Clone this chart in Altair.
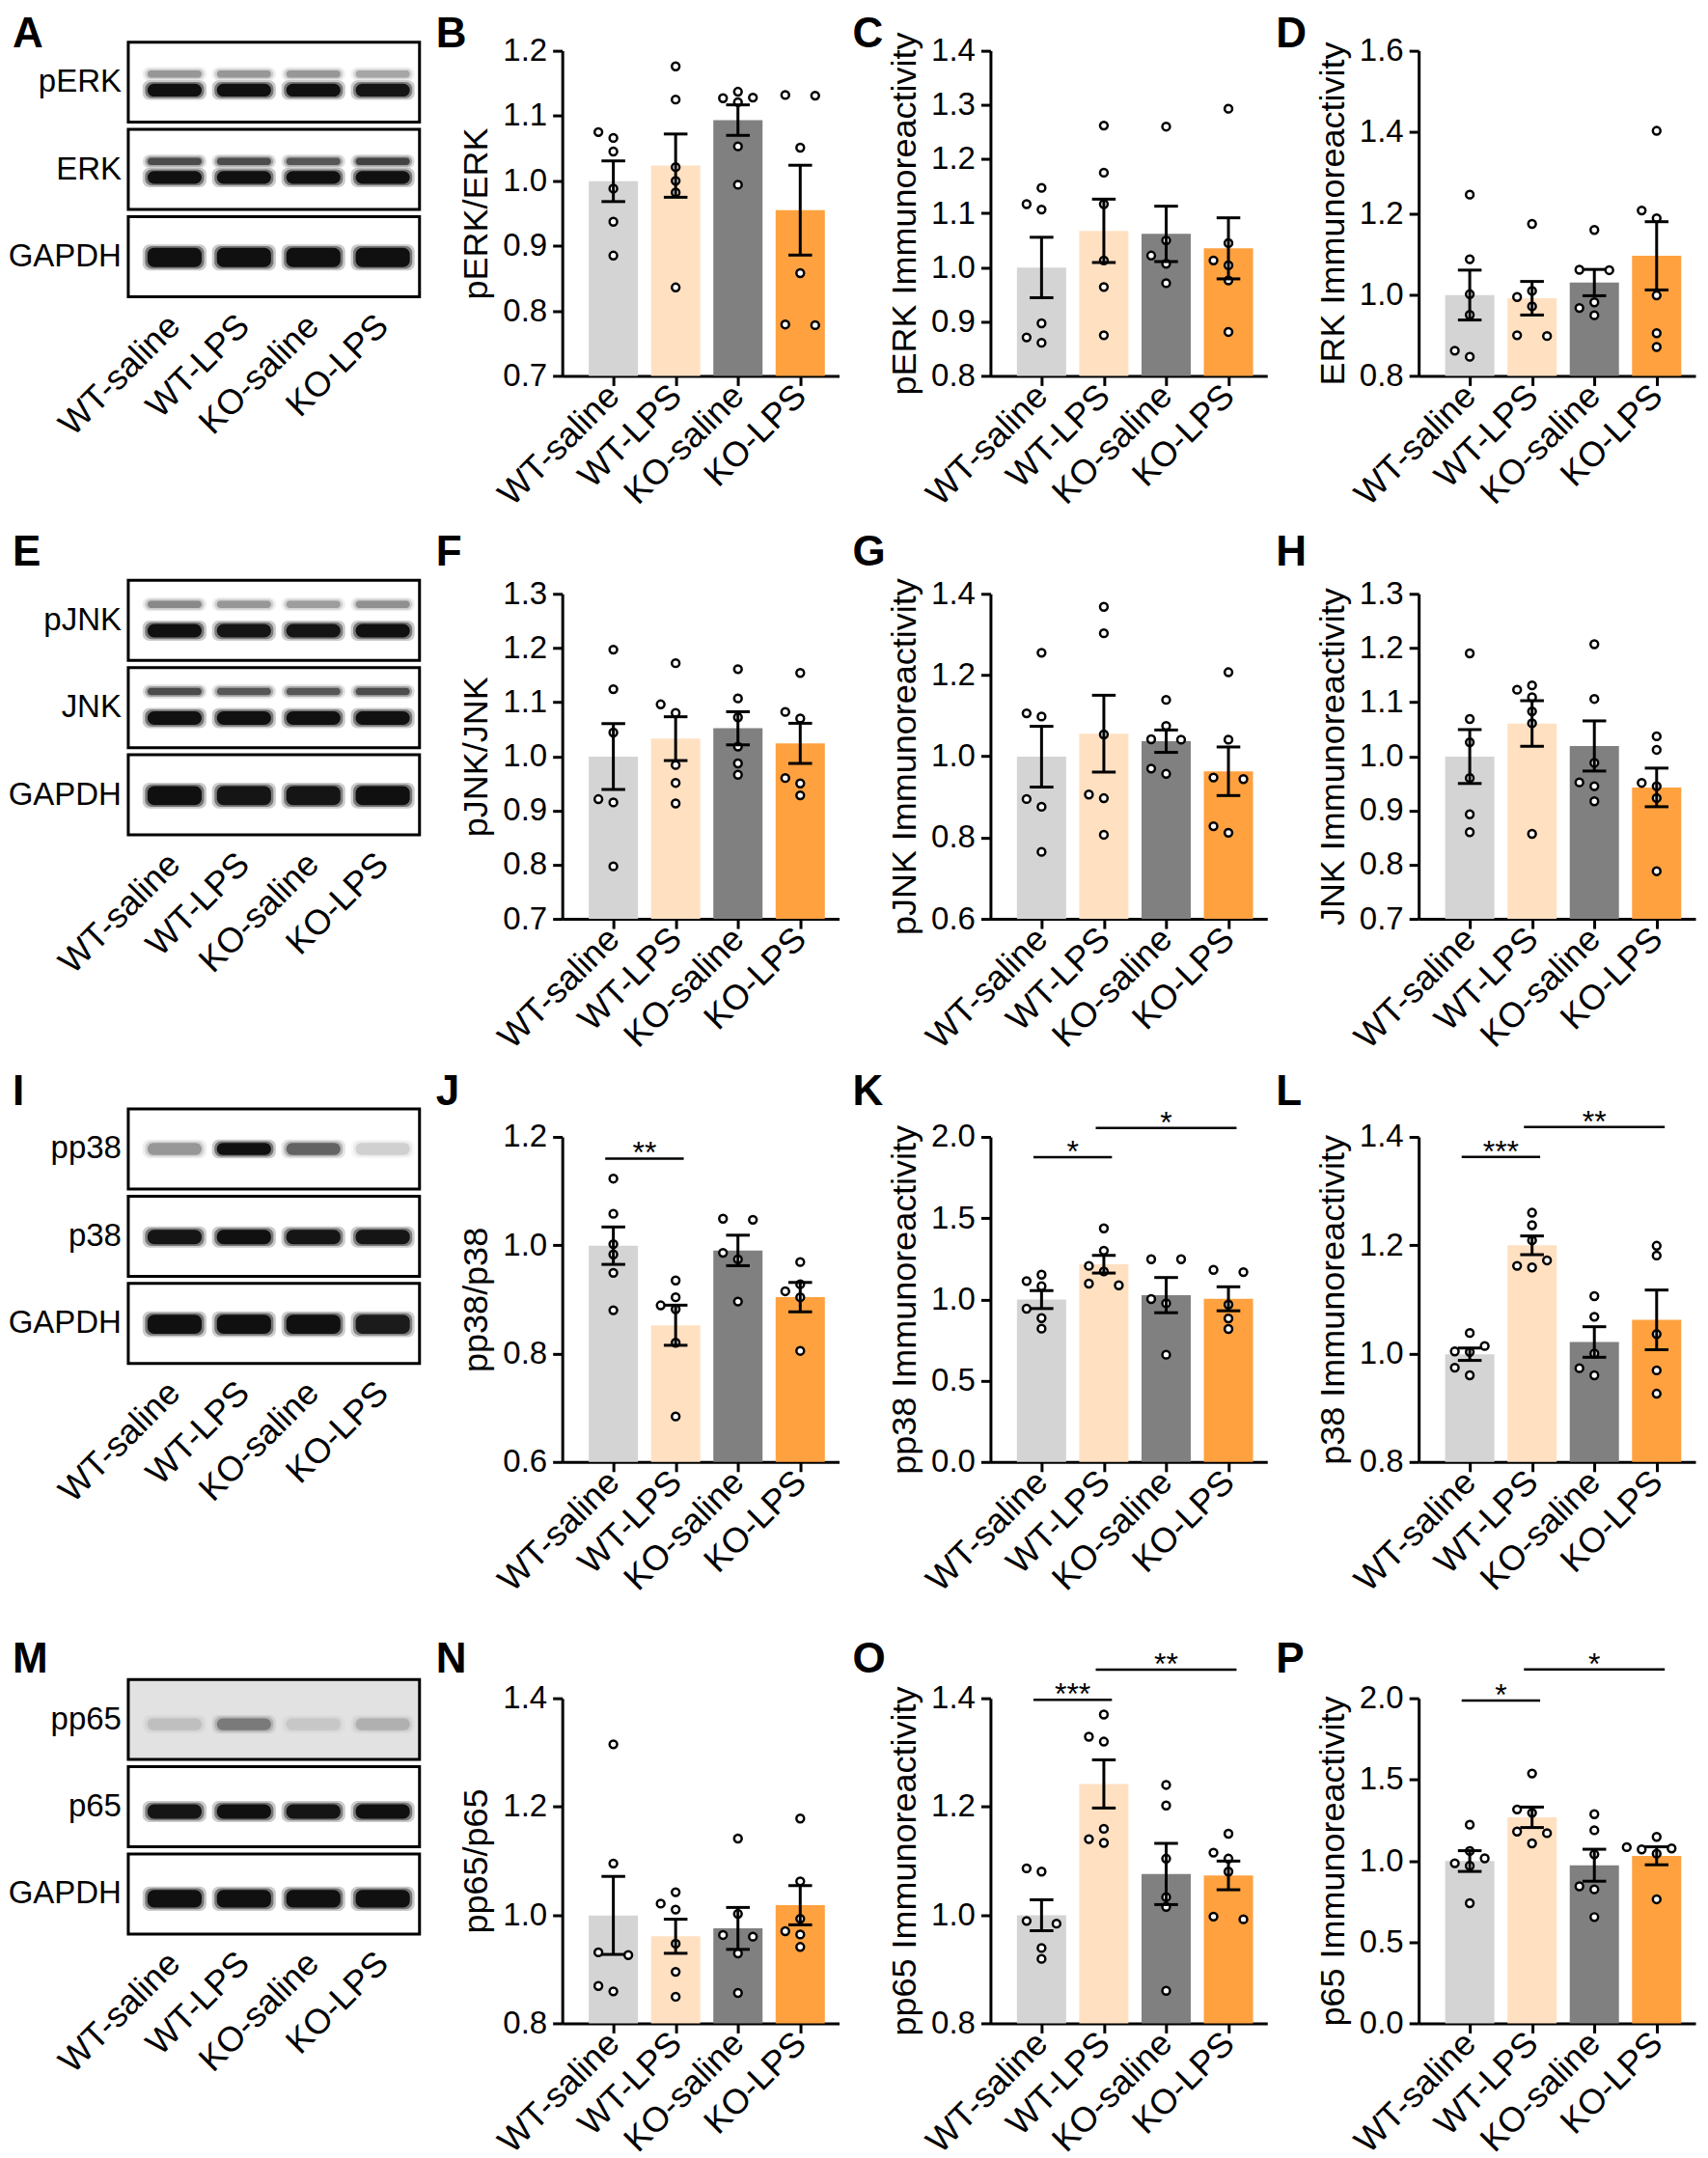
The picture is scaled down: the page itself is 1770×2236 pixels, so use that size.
import altair as alt
import numpy as np
import pandas as pd

FONT = "Liberation Sans"
GROUPS = ["WT-saline", "WT-LPS", "KO-saline", "KO-LPS"]
BAR_COLORS = ["#D4D4D4", "#FFE0C1", "#808080", "#FFA13F"]

# ---------------- individual values ----------------
B_vals = [[1.075, 1.066, 1.045, 0.988, 0.937, 0.885],
          [1.176, 1.125, 1.021, 1.000, 0.982, 0.836],
          [1.137, 1.127, 1.128, 1.121, 1.053, 0.994],
          [1.131, 1.132, 1.051, 0.858, 0.778, 0.779]]
C_vals = [[1.117, 1.147, 1.107, 0.897, 0.861, 0.871],
          [1.262, 1.175, 1.117, 1.013, 0.964, 0.875],
          [1.260, 1.050, 1.022, 1.007, 0.971],
          [1.293, 1.045, 1.013, 1.004, 0.976, 0.881]]
D_vals = [[1.246, 1.087, 1.001, 0.950, 0.847, 0.862],
          [1.174, 1.009, 0.994, 0.971, 0.898, 0.900],
          [1.159, 1.060, 1.061, 0.981, 0.967, 0.949],
          [1.403, 1.207, 1.188, 0.998, 0.905, 0.871]]
F_vals = [[1.197, 1.124, 1.044, 0.921, 0.915, 0.797],
          [1.172, 1.096, 1.080, 0.984, 0.951, 0.913],
          [1.161, 1.107, 1.072, 1.018, 0.987, 0.966],
          [1.154, 1.082, 1.070, 0.950, 0.960, 0.928]]
G_vals = [[1.255, 1.098, 1.106, 0.895, 0.876, 0.765],
          [1.368, 1.303, 1.054, 0.897, 0.906, 0.807],
          [1.139, 1.075, 1.041, 1.042, 0.957, 0.970],
          [1.207, 1.041, 0.944, 0.948, 0.812, 0.828]]
H_vals = [[1.190, 1.069, 1.026, 0.960, 0.893, 0.860],
          [1.131, 1.123, 1.109, 1.083, 1.061, 0.857],
          [1.207, 1.106, 0.988, 0.952, 0.945, 0.917],
          [1.037, 1.012, 0.945, 0.951, 0.923, 0.788]]
J_vals = [[1.123, 1.058, 1.002, 0.983, 0.949, 0.880],
          [0.935, 0.889, 0.904, 0.882, 0.820, 0.684],
          [1.049, 1.047, 0.986, 0.974, 0.896],
          [0.969, 0.915, 0.928, 0.904, 0.805]]
K_vals = [[1.152, 1.113, 1.081, 0.943, 0.885, 0.820],
          [1.437, 1.300, 1.206, 1.172, 1.087, 1.097],
          [1.247, 1.247, 1.002, 0.976, 0.660],
          [1.182, 1.168, 0.968, 0.883, 0.818]]
L_vals = [[1.038, 1.014, 1.004, 1.003, 0.974, 0.960],
          [1.260, 1.237, 1.209, 1.172, 1.159, 1.162],
          [1.106, 1.068, 1.000, 0.960, 0.973],
          [1.199, 1.181, 1.036, 0.969, 0.926]]
N_vals = [[1.315, 1.095, 0.926, 0.931, 0.859, 0.869],
          [1.042, 1.021, 1.010, 0.947, 0.895, 0.849],
          [1.141, 1.002, 0.963, 0.960, 0.929, 0.856],
          [1.178, 1.062, 0.993, 0.964, 0.970, 0.941]]
O_vals = [[1.080, 1.086, 0.984, 0.989, 0.939, 0.919],
          [1.370, 1.320, 1.329, 1.159, 1.133, 1.140],
          [1.240, 1.202, 1.104, 1.033, 1.015, 0.860],
          [1.150, 1.115, 1.104, 1.080, 0.992, 0.997]]
P_vals = [[1.222, 1.060, 1.015, 0.969, 0.985, 0.739],
          [1.537, 1.295, 1.316, 1.180, 1.170, 1.107],
          [1.287, 1.188, 1.040, 0.843, 0.824, 0.654],
          [1.147, 1.044, 1.084, 1.070, 1.076, 0.763]]

# significance brackets: (group i, group j, level, label)
J_sig = [(0, 1, 1.160, "**")]
K_sig = [(0, 1, 1.875, "*"), (1, 3, 2.055, "*")]
L_sig = [(0, 1, 1.363, "***"), (1, 3, 1.418, "**")]
O_sig = [(0, 1, 1.397, "***"), (1, 3, 1.453, "**")]
P_sig = [(0, 1, 1.986, "*"), (1, 3, 2.177, "*")]

# blot band intensities (per lane, 0..1)
A_pERK = [[0.30, 0.30, 0.30, 0.25], [1.0, 1.0, 1.0, 0.95]]
A_ERK = [[0.60, 0.60, 0.55, 0.65], [1.0, 1.0, 1.0, 1.0]]
A_GAPDH = [[1.0, 1.0, 1.0, 1.0]]
E_pJNK = [[0.35, 0.30, 0.28, 0.32], [1.0, 0.95, 0.95, 1.0]]
E_JNK = [[0.60, 0.55, 0.55, 0.60], [1.0, 1.0, 1.0, 1.0]]
E_GAPDH = [[1.0, 0.95, 0.95, 1.0]]
I_pp38 = [[0.30, 1.0, 0.50, 0.12]]
I_p38 = [[0.95, 1.0, 0.95, 0.95]]
I_GAPDH = [[1.0, 1.0, 1.0, 0.9]]
M_pp65 = [[0.10, 0.35, 0.08, 0.15]]
M_p65 = [[0.95, 1.0, 0.95, 1.0]]
M_GAPDH = [[1.0, 1.0, 1.0, 1.0]]

# ---------------- layout / style constants ----------------
PLOT_W, PLOT_H = 287, 337
XMIN, XMAX = -0.82, 3.623
BAR_HALF, CAP_HALF, DOT_STEP = 0.395, 0.19, 0.24
LABEL_EXPR = "['WT-saline','WT-LPS','KO-saline','KO-LPS'][datum.value]"
TICK_FS, XLAB_FS, TITLE_FS = 33, 36, 36

BOX_W_PX = 302
BLOT_W = 293
BX0, BX1 = -0.667, 3.53
BOX_PX = 83.0
PITCH = 1.09
BAND_HALF = 0.39
TWO_A = [(0.40, 0.09), (0.60, 0.16)]
TWO_E = [(0.30, 0.09), (0.63, 0.17)]
ONE_G = [(0.51, 0.24)]
ONE_P = [(0.50, 0.15)]
ONE_P2 = [(0.51, 0.18)]
ONE_M = [(0.56, 0.15)]
ONE_M2 = [(0.56, 0.18)]
ONE_MG = [(0.56, 0.22)]


def swarm(vals, ppu, thresh=10.0):
    order = sorted(range(len(vals)), key=lambda i: vals[i])
    slot = {}
    for i in order:
        for s in [0, -1, 1, -2, 2, -3, 3]:
            if all(not (slot[j] == s and abs(vals[j] - vals[i]) * ppu < thresh) for j in slot):
                slot[i] = s
                break
    for i in list(slot):
        if slot[i] == 0:
            close = [j for j in slot if j != i and slot[j] == -1 and abs(vals[j] - vals[i]) * ppu < 3]
            blocked = any(slot[j] == 1 and abs(vals[j] - vals[i]) * ppu < thresh for j in slot)
            if close and not blocked:
                slot[i] = 1
    return [slot[i] for i in range(len(vals))]


def letter_layer(letter, lx, ly):
    return alt.Chart(pd.DataFrame({"t": [letter]})).mark_text(
        align="left", baseline="top", fontSize=44, font=FONT, fontWeight="bold", color="black"
    ).encode(text="t:N", x=alt.value(lx), y=alt.value(ly))


def bar_panel(letter, ytitle, vals, ymin, ymax, step, sigs, lx, ly):
    ppu = PLOT_H / (ymax - ymin)
    rows = []
    for gi, (g, v) in enumerate(zip(GROUPS, vals)):
        for val, s in zip(v, swarm(v, ppu)):
            rows.append({"group": g, "gi": gi, "value": val, "xd": gi + s * DOT_STEP})
    dots = pd.DataFrame(rows)
    agg = dots.groupby("gi").agg(group=("group", "first"), mean=("value", "mean"),
                                 sd=("value", "std"), n=("value", "count")).reset_index()
    agg["sem"] = agg["sd"] / np.sqrt(agg["n"])
    agg["lo"] = agg["mean"] - agg["sem"]
    agg["hi"] = agg["mean"] + agg["sem"]
    agg["bx1"] = agg["gi"] - BAR_HALF
    agg["bx2"] = agg["gi"] + BAR_HALF
    agg["cx1"] = agg["gi"] - CAP_HALF
    agg["cx2"] = agg["gi"] + CAP_HALF

    xs = alt.Scale(domain=[XMIN, XMAX], nice=False, zero=False)
    ys = alt.Scale(domain=[ymin, ymax], nice=False, zero=False)
    nt = int(round((ymax - ymin) / step))
    ticks = [round(ymin + i * step, 3) for i in range(nt + 1)]
    xaxis = dict(values=[0, 1, 2, 3], labelExpr=LABEL_EXPR, title=None, labelAngle=315,
                 labelAlign="right", labelBaseline="middle", labelOverlap=False, labelPadding=5,
                 tickSize=10, labelBound=False, labelFlush=False, labelFontSize=XLAB_FS,
                 labelLimit=400)
    yaxis = dict(values=ticks, format=".1f", title=ytitle, titleLimit=1000, labelOverlap=False,
                 titlePadding=8, tickSize=10, labelPadding=6, labelFlush=False,
                 labelFontSize=TICK_FS, titleFontSize=TITLE_FS)

    def X(f):
        return alt.X(f, type="quantitative", scale=xs, axis=alt.Axis(**xaxis))

    def Y(f):
        return alt.Y(f, type="quantitative", scale=ys, axis=alt.Axis(**yaxis))

    base = alt.Chart(agg)
    bars = base.mark_rect().encode(
        x=X("bx1"), x2="bx2:Q", y=Y("mean"), y2=alt.datum(ymin),
        color=alt.Color("group:N", scale=alt.Scale(domain=GROUPS, range=BAR_COLORS), legend=None),
    )
    pts = alt.Chart(dots).mark_circle(size=62, fill="white", stroke="black", strokeWidth=2.5,
                                      opacity=1).encode(x=X("xd"), y=Y("value"))
    err = base.mark_rule(color="black", strokeWidth=3).encode(x=X("gi"), y=Y("lo"), y2="hi:Q")
    cap_t = base.mark_rule(color="black", strokeWidth=3).encode(x=X("cx1"), x2="cx2:Q", y=Y("hi"))
    cap_b = base.mark_rule(color="black", strokeWidth=3).encode(x=X("cx1"), x2="cx2:Q", y=Y("lo"))
    layers = [bars, pts, err, cap_t, cap_b]
    if sigs:
        sd = pd.DataFrame([{"x1": i - 0.13, "x2": j + 0.13, "xm": (i + j) / 2, "y": y, "label": lab}
                           for i, j, y, lab in sigs])
        layers.append(alt.Chart(sd).mark_rule(color="black", strokeWidth=2.5).encode(
            x=X("x1"), x2="x2:Q", y=Y("y")))
        layers.append(alt.Chart(sd).mark_text(fontSize=32, font=FONT, baseline="alphabetic", dy=5,
                                              color="black").encode(
            x=X("xm"), y=Y("y"), text="label:N"))
    layers.append(letter_layer(letter, lx, ly))
    return alt.layer(*layers).properties(width=PLOT_W, height=PLOT_H)


def blot_panel(letter, proteins, slot_sets, intensities, fills, d0, lx, ly, height=PLOT_H):
    xs = alt.Scale(domain=[BX0, BX0 + (BX1 - BX0) * BLOT_W / BOX_W_PX], nice=False, zero=False)
    ys = alt.Scale(domain=[d0, d0 + height / BOX_PX], nice=False, zero=False, reverse=True)
    boxes = pd.DataFrame([{"x1": BX0, "x2": BX1, "y1": k * PITCH, "y2": k * PITCH + 1.0,
                           "fill": fills[k], "name": proteins[k], "ym": k * PITCH + 0.5}
                          for k in range(3)])
    brow = []
    for k in range(3):
        for (c, t), ints in zip(slot_sets[k], intensities[k]):
            for lane in range(4):
                op = ints[lane]
                for grow, frac in [(0.07, 0.22), (0.035, 0.45), (0.0, 1.0)]:
                    brow.append({"x1": lane - BAND_HALF - grow, "x2": lane + BAND_HALF + grow,
                                 "y1": k * PITCH + c - t / 2 - grow * 0.6,
                                 "y2": k * PITCH + c + t / 2 + grow * 0.6,
                                 "op": min(1.0, op * frac)})
    bands = pd.DataFrame(brow)
    lanes = pd.DataFrame({"lane": [0, 1, 2, 3], "name": GROUPS, "y": [2 * PITCH + 1.30] * 4})

    def X(f):
        return alt.X(f, type="quantitative", scale=xs, axis=None)

    def Y(f):
        return alt.Y(f, type="quantitative", scale=ys, axis=None)

    bg = alt.Chart(boxes).mark_rect().encode(x=X("x1"), x2="x2:Q", y=Y("y1"), y2="y2:Q",
                                               color=alt.Color("fill:N", scale=None))
    bl = alt.Chart(bands).mark_rect(cornerRadius=7, color="#101010").encode(
        x=X("x1"), x2="x2:Q", y=Y("y1"), y2="y2:Q", opacity=alt.Opacity("op:Q", scale=None))
    frame = alt.Chart(boxes).mark_rect(fillOpacity=0, stroke="black", strokeWidth=3).encode(
        x=X("x1"), x2="x2:Q", y=Y("y1"), y2="y2:Q")
    names = alt.Chart(boxes).mark_text(align="right", baseline="middle", dx=-7, fontSize=33,
                                       font=FONT, color="black").encode(
        x=X("x1"), y=Y("ym"), text="name:N")
    lab = alt.Chart(lanes).mark_text(align="right", baseline="middle", angle=315, fontSize=36,
                                     font=FONT, color="black").encode(
        x=X("lane"), y=Y("y"), text="name:N")
    return alt.layer(bg, bl, frame, names, lab, letter_layer(letter, lx, ly)).properties(
        width=BLOT_W, height=height)


ROW_LY = [-39, -64, -68, -62]
COL_LX = [-120, -131, -143, -148]

panels = [
    blot_panel("A", ["pERK", "ERK", "GAPDH"], [TWO_A, TWO_A, ONE_G], [A_pERK, A_ERK, A_GAPDH],
               ["white", "white", "white"], 0.108, COL_LX[0], ROW_LY[0]),
    bar_panel("B", "pERK/ERK", B_vals, 0.7, 1.2, 0.1, None, COL_LX[1], ROW_LY[0]),
    bar_panel("C", "pERK Immunoreactivity", C_vals, 0.8, 1.4, 0.1, None, COL_LX[2], ROW_LY[0]),
    bar_panel("D", "ERK Immunoreactivity", D_vals, 0.8, 1.6, 0.2, None, COL_LX[3], ROW_LY[0]),

    blot_panel("E", ["pJNK", "JNK", "GAPDH"], [TWO_E, TWO_E, ONE_G], [E_pJNK, E_JNK, E_GAPDH],
               ["white", "white", "white"], 0.169, COL_LX[0], ROW_LY[1]),
    bar_panel("F", "pJNK/JNK", F_vals, 0.7, 1.3, 0.1, None, COL_LX[1], ROW_LY[1]),
    bar_panel("G", "pJNK Immunoreactivity", G_vals, 0.6, 1.4, 0.2, None, COL_LX[2], ROW_LY[1]),
    bar_panel("H", "JNK Immunoreactivity", H_vals, 0.7, 1.3, 0.1, None, COL_LX[3], ROW_LY[1]),

    blot_panel("I", ["pp38", "p38", "GAPDH"], [ONE_P, ONE_P2, ONE_G], [I_pp38, I_p38, I_GAPDH],
               ["white", "white", "white"], 0.349, COL_LX[0], ROW_LY[2], height=PLOT_H + 19),
    bar_panel("J", "pp38/p38", J_vals, 0.6, 1.2, 0.2, J_sig, COL_LX[1], ROW_LY[2]),
    bar_panel("K", "pp38 Immunoreactivity", K_vals, 0.0, 2.0, 0.5, K_sig, COL_LX[2], ROW_LY[2]),
    bar_panel("L", "p38 Immunoreactivity", L_vals, 0.8, 1.4, 0.2, L_sig, COL_LX[3], ROW_LY[2]),

    blot_panel("M", ["pp65", "p65", "GAPDH"], [ONE_M, ONE_M2, ONE_MG], [M_pp65, M_p65, M_GAPDH],
               ["#E2E2E2", "white", "white"], 0.235, COL_LX[0], ROW_LY[3]),
    bar_panel("N", "pp65/p65", N_vals, 0.8, 1.4, 0.2, None, COL_LX[1], ROW_LY[3]),
    bar_panel("O", "pp65 Immunoreactivity", O_vals, 0.8, 1.4, 0.2, O_sig, COL_LX[2], ROW_LY[3]),
    bar_panel("P", "p65 Immunoreactivity", P_vals, 0.0, 2.0, 0.5, P_sig, COL_LX[3], ROW_LY[3]),
]

chart = alt.concat(*panels, columns=4, spacing={"row": 226, "column": 157},
                   bounds="flush", align="each").properties(
    padding={"left": 0, "top": 5, "right": 5, "bottom": 5}
).configure_view(stroke=None).configure_axis(
    domainColor="black", domainWidth=3, tickColor="black", tickWidth=3, labelColor="black",
    titleColor="black", labelFont=FONT, titleFont=FONT, labelFontSize=TICK_FS,
    titleFontSize=TITLE_FS, titleFontWeight="normal", grid=False
)

chart.save("out.html", embed_options={"renderer": "svg", "actions": False})
